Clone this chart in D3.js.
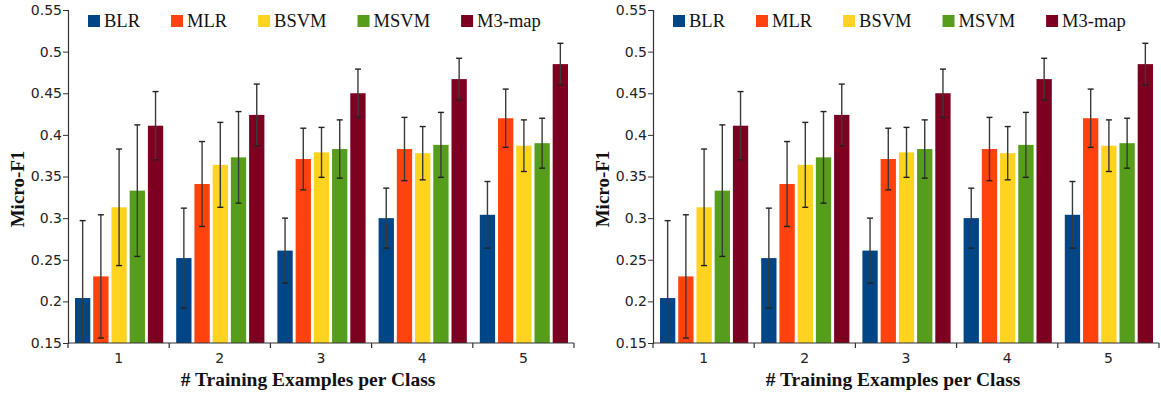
<!DOCTYPE html>
<html>
<head>
<meta charset="utf-8">
<script src="https://cdn.jsdelivr.net/npm/d3@7"></script>
<style>
body{margin:0;background:#fff;}
</style>
</head>
<body>
<script>
var categories=["1","2","3","4","5"];
var methods=["BLR","MLR","BSVM","MSVM","M3-map"];
var colors=["#004586","#ff420e","#ffd320","#579d1c","#7e0021"];
// mean micro-F1 per method, one value per category
var blr=[0.204,0.252,0.261,0.300,0.304];
var mlr=[0.230,0.341,0.371,0.383,0.420];
var bsvm=[0.313,0.364,0.379,0.378,0.387];
var msvm=[0.333,0.373,0.383,0.388,0.390];
var m3map=[0.411,0.424,0.450,0.467,0.485];
// error (half-width of bar)
var blrErr=[0.093,0.060,0.039,0.036,0.040];
var mlrErr=[0.074,0.051,0.037,0.038,0.035];
var bsvmErr=[0.070,0.051,0.030,0.032,0.031];
var msvmErr=[0.079,0.055,0.035,0.039,0.030];
var m3mapErr=[0.041,0.037,0.029,0.025,0.025];
var yTicks=[0.15,0.2,0.25,0.3,0.35,0.4,0.45,0.5,0.55];

var values=[blr,mlr,bsvm,msvm,m3map];
var errs=[blrErr,mlrErr,bsvmErr,msvmErr,m3mapErr];

var svg=d3.select("body").append("svg")
.attr("width",1161)
.attr("height",394);

function panel(left){
	var w=506,top=10,bottom=343;
	var g=svg.append("g").attr("transform","translate("+left+",0)");
	var x0=d3.scaleBand().domain(categories).range([0,w]).paddingInner(0).paddingOuter(0);
	var x1=d3.scaleBand().domain(methods).range([7,x0.bandwidth()-6]).paddingInner(0.16).paddingOuter(0);
	var y=d3.scaleLinear().domain([0.15,0.55]).range([bottom,top]);

	var rows=[];
	categories.forEach(function(c,ci){
		methods.forEach(function(m,mi){
			rows.push({c:c,m:m,mi:mi,v:values[mi][ci],e:errs[mi][ci]});
		});
	});

	g.selectAll("rect.bar").data(rows).enter().append("rect")
	.attr("class","bar")
	.attr("x",function(d){return x0(d.c)+x1(d.m);})
	.attr("width",x1.bandwidth())
	.attr("y",function(d){return y(d.v);})
	.attr("height",function(d){return bottom-y(d.v);})
	.attr("fill",function(d){return colors[d.mi];});

	// error bars
	var eb=g.selectAll("g.err").data(rows).enter().append("g").attr("class","err")
	.attr("transform",function(d){return "translate("+(x0(d.c)+x1(d.m)+x1.bandwidth()/2)+",0)";});
	var lo=function(d){return y(Math.max(0.15,d.v-d.e));};
	var hi=function(d){return y(d.v+d.e);};
	eb.append("line").attr("x1",0).attr("x2",0).attr("y1",lo).attr("y2",hi)
	.attr("stroke","#3a3a3a").attr("stroke-width",1.4);
	eb.append("line").attr("x1",-3).attr("x2",3).attr("y1",hi).attr("y2",hi)
	.attr("stroke","#222").attr("stroke-width",1.4);
	eb.filter(function(d){return d.v-d.e>0.15;}).append("line").attr("x1",-3).attr("x2",3).attr("y1",lo).attr("y2",lo)
	.attr("stroke","#222").attr("stroke-width",1.4);

	// y axis
	var ya=g.append("g").call(d3.axisLeft(y).tickValues(yTicks).tickSize(5).tickFormat(function(d){return d3.format("")(+d.toFixed(2));}));
	ya.select(".domain").attr("stroke","#333").attr("stroke-width",1.2);
	ya.selectAll(".tick line").attr("stroke","#333");
	ya.selectAll("text").attr("font-family","DejaVu Sans").attr("font-size",14).attr("fill","#222").attr("x",-6);

	// x axis
	var xa=g.append("g").attr("transform","translate(0,"+bottom+")");
	xa.append("line").attr("x1",0).attr("x2",w).attr("stroke","#333").attr("stroke-width",1.2);
	xa.selectAll("line.tk").data(d3.range(categories.length+1)).enter().append("line")
	.attr("class","tk")
	.attr("x1",function(i){return i*x0.step();}).attr("x2",function(i){return i*x0.step();})
	.attr("y1",0).attr("y2",5).attr("stroke","#333").attr("stroke-width",1.2);
	xa.selectAll("text").data(categories).enter().append("text")
	.attr("x",function(c){return x0(c)+x0.bandwidth()/2;})
	.attr("y",20).attr("text-anchor","middle")
	.attr("font-family","DejaVu Sans").attr("font-size",14).attr("fill","#222")
	.text(function(c){return c;});

	g.append("text").attr("x",240).attr("y",386).attr("text-anchor","middle")
	.attr("font-family","Liberation Serif").attr("font-weight","bold").attr("font-size",19.5).attr("fill","#111")
	.text("# Training Examples per Class");

	g.append("text").attr("transform","translate(-44,189) rotate(-90)").attr("text-anchor","middle")
	.attr("font-family","Liberation Serif").attr("font-weight","bold").attr("font-size",19).attr("fill","#111")
	.text("Micro-F1");

	// legend
	var lg=g.append("g").attr("transform","translate(20,15)");
	var cx=0;
	methods.forEach(function(m,i){
		var it=lg.append("g").attr("transform","translate("+cx+",0)");
		it.append("rect").attr("width",12).attr("height",12).attr("fill",colors[i]);
		var t=it.append("text").attr("x",16).attr("y",12).attr("font-family","Liberation Serif").attr("font-size",18.5).attr("fill","#111").text(m);
		cx+=16+t.node().getComputedTextLength()+31;
	});
}

panel(68);
panel(653);
</script>
</body>
</html>
